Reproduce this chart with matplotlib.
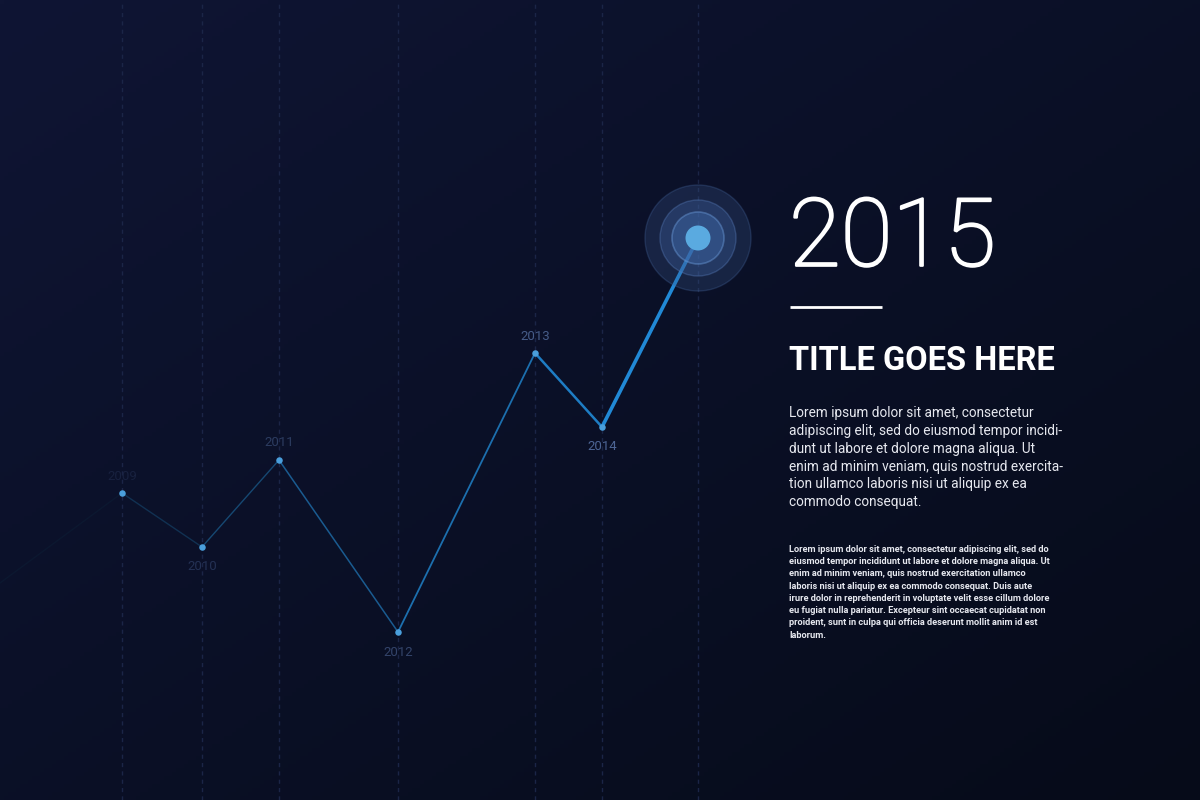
import matplotlib
matplotlib.use("Agg")
from matplotlib import pyplot as plt
from matplotlib.collections import LineCollection
from matplotlib.patches import Circle
import matplotlib.patheffects as pe
import numpy as np

plt.rcParams['font.family'] = ['Roboto', 'DejaVu Sans']

# data
years = ['', '2009', '2010', '2011', '2012', '2013', '2014', '2015']
x_vals = [0, 122, 202, 279, 398, 535, 602, 698]
values = [217, 307, 253, 340, 168, 447, 373, 562]
label_side = [0, 1, -1, 1, -1, 1, -1, 0]
label_colors = ['#000000', '#18213f', '#243154', '#2c3c60', '#33446a', '#465c88', '#4d6595', '#ffffff']
seg_colors = ['#0c1830', '#113152', '#164872', '#1a5b90', '#1c6fae', '#1e7dc4', '#2189d6']
seg_widths = [1.0, 1.0, 1.0, 1.1, 1.3, 1.8, 2.6]

title_year = '2015'
title = 'TITLE GOES HERE'
para1 = ('Lorem ipsum dolor sit amet, consectetur\n'
         'adipiscing elit, sed do eiusmod tempor incidi-\n'
         'dunt ut labore et dolore magna aliqua. Ut\n'
         'enim ad minim veniam, quis nostrud exercita-\n'
         'tion ullamco laboris nisi ut aliquip ex ea\n'
         'commodo consequat.')
para2 = ('Lorem ipsum dolor sit amet, consectetur adipiscing elit, sed do\n'
         'eiusmod tempor incididunt ut labore et dolore magna aliqua. Ut\n'
         'enim ad minim veniam, quis nostrud exercitation ullamco\n'
         'laboris nisi ut aliquip ex ea commodo consequat. Duis aute\n'
         'irure dolor in reprehenderit in voluptate velit esse cillum dolore\n'
         'eu fugiat nulla pariatur. Excepteur sint occaecat cupidatat non\n'
         'proident, sunt in culpa qui officia deserunt mollit anim id est\n'
         'laborum.')

fig = plt.figure(figsize=(12, 8), dpi=100)
ax = fig.add_axes([0, 0, 1, 1])

# background gradient, top-left lighter navy to bottom-right darker
gx, gy = np.meshgrid(np.linspace(0, 1, 300), np.linspace(0, 1, 200))
t = (gx * 0.5 + gy * 0.5)
c0 = np.array([0x0f, 0x15, 0x34]) / 255
c1 = np.array([0x06, 0x0b, 0x19]) / 255
img = c0[None, None, :] * (1 - t[..., None]) + c1[None, None, :] * t[..., None]
ax.imshow(img, extent=[0, 1200, 0, 800], origin='upper', aspect='auto', zorder=0)
ax.set_xlim(0, 1200)
ax.set_ylim(0, 800)
ax.axis('off')

# vertical dashed guides
for xv in x_vals[1:]:
    ax.axvline(xv, color='#1b2547', lw=1.0, ls=(0, (3, 3)), zorder=1)

# line segments with growing strength
pts = np.column_stack([x_vals, values])
segs = [pts[i:i + 2] for i in range(len(pts) - 1)]
lc = LineCollection(segs, colors=seg_colors, linewidths=seg_widths, zorder=3,
                    capstyle='round')
ax.add_collection(lc)

# small dots
ax.scatter(x_vals[1:-1], values[1:-1], s=22, color='#4a9fdc', zorder=4, linewidths=0)

# year labels
for xv, v, yr, side, col in zip(x_vals, values, years, label_side, label_colors):
    if side == 0:
        continue
    off = 17 if side > 0 else -20
    ax.text(xv, v + off, yr, ha='center', va='center', fontsize=9.5,
            color=col, zorder=4)

# target on the last point
cx, cy = x_vals[-1], values[-1]
ax.add_patch(Circle((cx, cy), 53, facecolor='#3a5a8e', alpha=0.28,
                    edgecolor='#4a6ea8', lw=1.0, zorder=5))
ax.add_patch(Circle((cx, cy), 38, facecolor='#3f63a0', alpha=0.35,
                    edgecolor='#5a80c0', lw=1.0, zorder=5))
ax.add_patch(Circle((cx, cy), 26, facecolor='#3f68a8', alpha=0.45,
                    edgecolor='#6a9ad8', lw=1.2, zorder=5))
ax.add_patch(Circle((cx, cy), 12.5, facecolor='#5aaae0', edgecolor='none', zorder=6))

# right side text
ax.text(789, 560, title_year, fontsize=68, fontweight='light', color='white',
        ha='left', va='center', zorder=6,
        path_effects=[pe.withStroke(linewidth=1.6, foreground='white')])
ax.plot([790, 882], [493, 493], color='white', lw=2, solid_capstyle='butt', zorder=6)
ax.text(789, 439, title, fontsize=23.5, fontweight='bold', color='white',
        ha='left', va='center', zorder=6)
ax.text(789, 394, para1, fontsize=9.8, color='#e6e8ef', ha='left', va='top',
        linespacing=1.35, zorder=6)
ax.text(789, 255, para2, fontsize=6.7, fontweight='bold', color='#e6e8ef',
        ha='left', va='top', linespacing=1.46, zorder=6)

fig.savefig('out.png', dpi=100, facecolor='#0c1229')
